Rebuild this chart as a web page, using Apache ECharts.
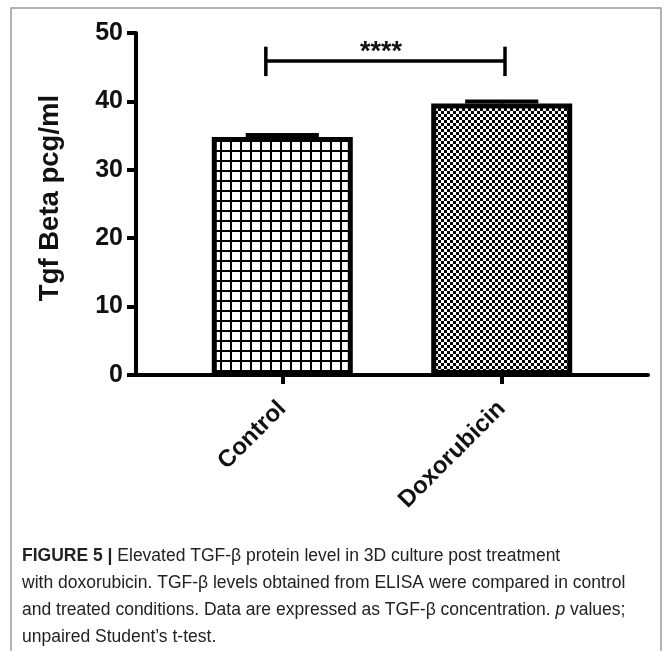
<!DOCTYPE html>
<html lang="en">
<head>
    <meta charset="UTF-8">
    <title>Figure 5</title>
    <script type="text/javascript" src="https://cdn.jsdelivr.net/npm/echarts@6/dist/echarts.min.js"></script>
    <style>
        html, body {margin: 0; padding: 0; background: #fff;}
        #chart {width: 665px; height: 651px;}
    </style>
</head>
<body>
<div id="chart"></div>
<script type="text/javascript">
    // data
    var categories = ['Control', 'Doxorubicin'];
    var means = [34.8, 39.7];
    var sems = [0.3, 0.3];
    var yTicks = [0, 10, 20, 30, 40, 50];
    // significance bracket (x in category units, y in pcg/ml)
    var bracketX = [-0.075, 1.015];
    var bracketY = 45.9;
    var bracketEnds = [43.7, 48.0];
    var sigText = '****';
    var sigPos = [0.45, 47.1];

    var font = "'Liberation Sans', Arial, Helvetica, sans-serif";

    function gridPattern() {
        var c = document.createElement('canvas');
        c.width = 10; c.height = 10;
        var ctx = c.getContext('2d');
        ctx.fillStyle = '#fff';
        ctx.fillRect(0, 0, 10, 10);
        ctx.fillStyle = '#000';
        ctx.fillRect(0, 0, 2, 10);
        ctx.fillRect(0, 0, 10, 2);
        return c;
    }
    function checkerPattern() {
        var c = document.createElement('canvas');
        c.width = 6; c.height = 6;
        var ctx = c.getContext('2d');
        ctx.fillStyle = '#fff';
        ctx.fillRect(0, 0, 6, 6);
        ctx.fillStyle = '#000';
        ctx.fillRect(0, 0, 3, 3);
        ctx.fillRect(3, 3, 3, 3);
        return c;
    }
    var patterns = [gridPattern(), checkerPattern()];

    var barData = categories.map(function (name, i) {
        return {
            value: [i, means[i]],
            itemStyle: {color: {image: patterns[i], repeat: 'repeat'}}
        };
    });
    var errData = categories.map(function (name, i) {
        return [i, means[i], sems[i]];
    });

    var mychart = echarts.init(document.getElementById('chart'), null, {renderer: 'canvas'});
    var option = {
        animation: false,
        backgroundColor: '#fff',
        title: {
            left: 22,
            top: 543,
            padding: 0,
            text: '{b|FIGURE 5 |} Elevated TGF-β protein level in 3D culture post treatment\n' +
                'with doxorubicin. TGF-β levels obtained from ELISA were compared in control\n' +
                'and treated conditions. Data are expressed as TGF-β concentration. {i|p} values;\n' +
                'unpaired Student\u2019s t-test.',
            textStyle: {
                fontFamily: font, fontSize: 17.5, fontWeight: 'normal', color: '#222', lineHeight: 27,
                rich: {
                    b: {fontFamily: font, fontSize: 17.5, fontWeight: 'bold', color: '#222', lineHeight: 27},
                    i: {fontFamily: font, fontSize: 17.5, fontStyle: 'italic', color: '#222', lineHeight: 27}
                }
            }
        },
        graphic: [{
            type: 'rect',
            silent: true,
            shape: {x: 11, y: 8, width: 650, height: 700},
            style: {fill: 'none', stroke: '#999', lineWidth: 1.5}
        }],
        grid: {left: 136, right: 17, top: 33, bottom: 276},
        xAxis: {
            type: 'value',
            min: -2 / 3,
            max: 5 / 3,
            splitLine: {show: false},
            axisLine: {show: true, onZero: false, lineStyle: {color: '#000', width: 4}},
            axisTick: {show: true, length: 9, customValues: [0, 1], lineStyle: {color: '#000', width: 4}},
            axisLabel: {
                customValues: [0, 1],
                rotate: 45,
                margin: 30,
                fontFamily: font, fontSize: 24, fontWeight: 'bold', color: '#111',
                formatter: function (v) { return categories[Math.round(v)]; }
            }
        },
        yAxis: {
            type: 'value',
            min: 0,
            max: 50,
            interval: 10,
            name: 'Tgf Beta pcg/ml',
            nameLocation: 'middle',
            nameGap: 72,
            nameTextStyle: {fontFamily: font, fontSize: 27.5, fontWeight: 'bold', color: '#111', padding: [0, 0, 0, 12]},
            splitLine: {show: false},
            axisLine: {show: true, onZero: false, lineStyle: {color: '#000', width: 4}},
            axisTick: {show: true, length: 9, lineStyle: {color: '#000', width: 4}},
            axisLabel: {
                margin: 13,
                fontFamily: font, fontSize: 25, fontWeight: 'bold', color: '#111',
                formatter: function (v) { return yTicks.indexOf(v) >= 0 ? String(v) : ''; }
            }
        },
        series: [{
            type: 'bar',
            barWidth: 141,
            data: barData,
            itemStyle: {borderColor: '#000', borderWidth: 5}
        }, {
            type: 'custom',
            data: errData,
            z: 5,
            renderItem: function (params, api) {
                var x = api.value(0), m = api.value(1), s = api.value(2);
                var top = api.coord([x, m + s]);
                var base = api.coord([x, m]);
                var half = api.size([1 / 3, 0])[0] / 2;
                var st = {stroke: '#000', lineWidth: 4};
                return {
                    type: 'group',
                    children: [
                        {type: 'line', shape: {x1: top[0], y1: base[1], x2: top[0], y2: top[1]}, style: st},
                        {type: 'line', shape: {x1: top[0] - half, y1: top[1], x2: top[0] + half, y2: top[1]}, style: st}
                    ]
                };
            }
        }, {
            type: 'custom',
            data: [[bracketX[0], bracketX[1], bracketY, bracketEnds[0], bracketEnds[1]]],
            z: 5,
            renderItem: function (params, api) {
                var l = api.coord([api.value(0), api.value(2)]);
                var r = api.coord([api.value(1), api.value(2)]);
                var lo = api.coord([0, api.value(3)])[1];
                var hi = api.coord([0, api.value(4)])[1];
                var sp = api.coord(sigPos);
                var st = {stroke: '#000', lineWidth: 3.5};
                return {
                    type: 'group',
                    children: [
                        {type: 'line', shape: {x1: l[0], y1: l[1], x2: r[0], y2: r[1]}, style: st},
                        {type: 'line', shape: {x1: l[0], y1: lo, x2: l[0], y2: hi}, style: st},
                        {type: 'line', shape: {x1: r[0], y1: lo, x2: r[0], y2: hi}, style: st},
                        {type: 'text', x: sp[0], y: sp[1], style: {
                            text: sigText, fill: '#111', font: 'bold 27px ' + font,
                            align: 'center', verticalAlign: 'middle'
                        }}
                    ]
                };
            }
        }]
    };
    mychart.setOption(option);
</script>
</body>
</html>
